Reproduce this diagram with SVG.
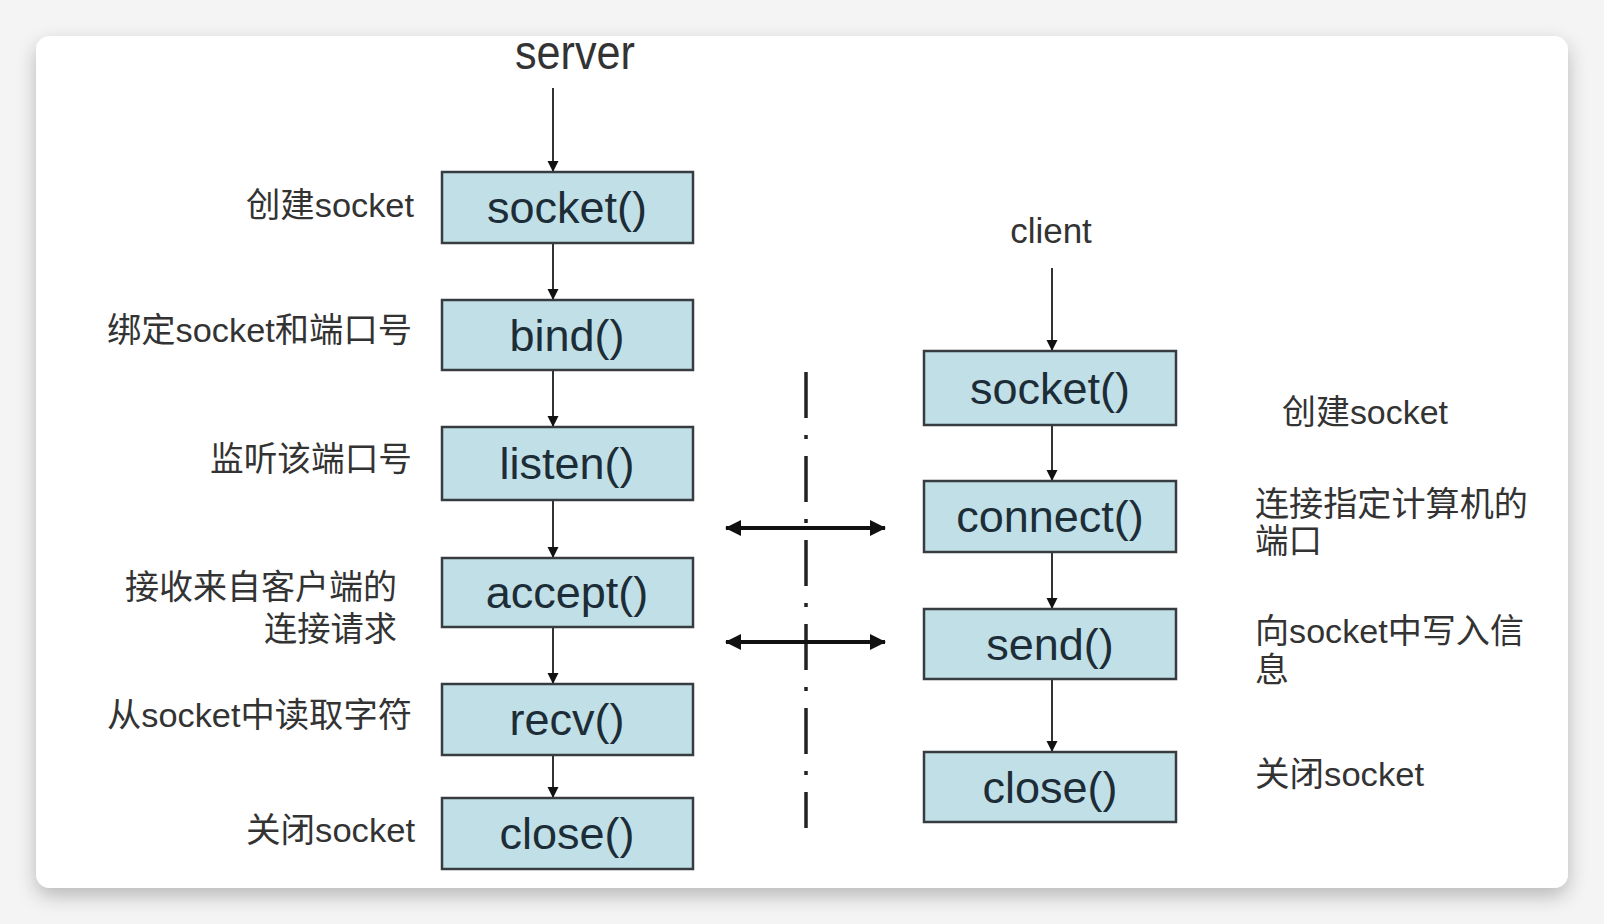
<svg xmlns="http://www.w3.org/2000/svg" width="1604" height="924" viewBox="0 0 1604 924">
  <style>
    .box { fill: #c1dfe6; stroke: #363c40; stroke-width: 2.5; }
    .blabel { font-family: "Liberation Sans", Arial, sans-serif; font-size: 45px; fill: #1d2d37; text-anchor: middle; }
    .lbl { font-family: "Liberation Sans", "Noto Sans CJK SC", sans-serif; font-size: 34px; fill: #333333; }
    .title { font-family: "Liberation Sans", Arial, sans-serif; fill: #333333; text-anchor: middle; }
    .flow { stroke: #333333; stroke-width: 2; fill: none; marker-end: url(#ah); }
    .dbl { stroke: #111111; stroke-width: 4; fill: none; marker-start: url(#bh); marker-end: url(#bh); }
    .sep { stroke: #222222; stroke-width: 3.5; fill: none; stroke-dasharray: 46 17 4 17; }
  </style>
  <defs>
    <marker id="ah" markerUnits="userSpaceOnUse" markerWidth="12" markerHeight="12" refX="11" refY="6" orient="auto">
      <path d="M0,0.5 L11,6 L0,11.5 Z" fill="#111111"/>
    </marker>
    <marker id="bh" markerUnits="userSpaceOnUse" markerWidth="18" markerHeight="18" refX="15" refY="9" orient="auto-start-reverse">
      <path d="M0,1 L16,9 L0,17 Z" fill="#111111"/>
    </marker>
    <filter id="shadow" x="-5%" y="-5%" width="110%" height="115%">
      <feGaussianBlur in="SourceAlpha" stdDeviation="10"/>
      <feOffset dx="0" dy="8" result="b"/>
      <feComponentTransfer><feFuncA type="linear" slope="0.25"/></feComponentTransfer>
      <feMerge><feMergeNode/><feMergeNode in="SourceGraphic"/></feMerge>
    </filter>
  </defs>

  <rect x="0" y="0" width="1604" height="924" fill="#f4f4f4"/>
  <rect x="36" y="36" width="1532" height="852" rx="14" ry="14" fill="#ffffff" filter="url(#shadow)"/>

  <!-- titles -->
  <text class="title" x="575" y="69" font-size="48" textLength="120" lengthAdjust="spacingAndGlyphs">server</text>
  <text class="title" x="1051" y="243" font-size="35">client</text>

  <!-- connectors -->
  <g id="connectors">
    <line class="flow" x1="553" y1="88" x2="553" y2="172"/>
    <line class="flow" x1="553" y1="243" x2="553" y2="300"/>
    <line class="flow" x1="553" y1="370" x2="553" y2="427"/>
    <line class="flow" x1="553" y1="500" x2="553" y2="558"/>
    <line class="flow" x1="553" y1="627" x2="553" y2="684"/>
    <line class="flow" x1="553" y1="755" x2="553" y2="798"/>

    <line class="flow" x1="1052" y1="268" x2="1052" y2="351"/>
    <line class="flow" x1="1052" y1="425" x2="1052" y2="481"/>
    <line class="flow" x1="1052" y1="552" x2="1052" y2="609"/>
    <line class="flow" x1="1052" y1="679" x2="1052" y2="752"/>

    <line class="sep" x1="806" y1="372" x2="806" y2="828"/>
    <line class="dbl" x1="726" y1="528" x2="885" y2="528"/>
    <line class="dbl" x1="726" y1="642" x2="885" y2="642"/>
  </g>

  <!-- server nodes -->
  <g id="s-socket">
    <rect class="box" x="442" y="172" width="251" height="71"/>
    <text class="blabel" x="567" y="223">socket()</text>
    <text class="lbl" x="246" y="217" textLength="168" lengthAdjust="spacingAndGlyphs">创建socket</text>
  </g>
  <g id="s-bind">
    <rect class="box" x="442" y="300" width="251" height="70"/>
    <text class="blabel" x="567" y="351">bind()</text>
    <text class="lbl" x="107" y="342" textLength="305" lengthAdjust="spacingAndGlyphs">绑定socket和端口号</text>
  </g>
  <g id="s-listen">
    <rect class="box" x="442" y="427" width="251" height="73"/>
    <text class="blabel" x="567" y="479">listen()</text>
    <text class="lbl" x="210" y="471" textLength="202" lengthAdjust="spacingAndGlyphs">监听该端口号</text>
  </g>
  <g id="s-accept">
    <rect class="box" x="442" y="558" width="251" height="69"/>
    <text class="blabel" x="567" y="608">accept()</text>
    <text class="lbl" x="125" y="599" textLength="272" lengthAdjust="spacingAndGlyphs">接收来自客户端的</text>
    <text class="lbl" x="264" y="641" textLength="133" lengthAdjust="spacingAndGlyphs">连接请求</text>
  </g>
  <g id="s-recv">
    <rect class="box" x="442" y="684" width="251" height="71"/>
    <text class="blabel" x="567" y="735">recv()</text>
    <text class="lbl" x="107" y="727" textLength="305" lengthAdjust="spacingAndGlyphs">从socket中读取字符</text>
  </g>
  <g id="s-close">
    <rect class="box" x="442" y="798" width="251" height="71"/>
    <text class="blabel" x="567" y="849">close()</text>
    <text class="lbl" x="246" y="842" textLength="169" lengthAdjust="spacingAndGlyphs">关闭socket</text>
  </g>

  <!-- client nodes -->
  <g id="c-socket">
    <rect class="box" x="924" y="351" width="252" height="74"/>
    <text class="blabel" x="1050" y="404">socket()</text>
    <text class="lbl" x="1282" y="424" textLength="166" lengthAdjust="spacingAndGlyphs">创建socket</text>
  </g>
  <g id="c-connect">
    <rect class="box" x="924" y="481" width="252" height="71"/>
    <text class="blabel" x="1050" y="532">connect()</text>
    <text class="lbl" x="1255" y="516" textLength="273" lengthAdjust="spacingAndGlyphs">连接指定计算机的</text>
    <text class="lbl" x="1255" y="553" textLength="67" lengthAdjust="spacingAndGlyphs">端口</text>
  </g>
  <g id="c-send">
    <rect class="box" x="924" y="609" width="252" height="70"/>
    <text class="blabel" x="1050" y="660">send()</text>
    <text class="lbl" x="1255" y="643" textLength="269" lengthAdjust="spacingAndGlyphs">向socket中写入信</text>
    <text class="lbl" x="1255" y="682">息</text>
  </g>
  <g id="c-close">
    <rect class="box" x="924" y="752" width="252" height="70"/>
    <text class="blabel" x="1050" y="803">close()</text>
    <text class="lbl" x="1255" y="786" textLength="169" lengthAdjust="spacingAndGlyphs">关闭socket</text>
  </g>
</svg>
